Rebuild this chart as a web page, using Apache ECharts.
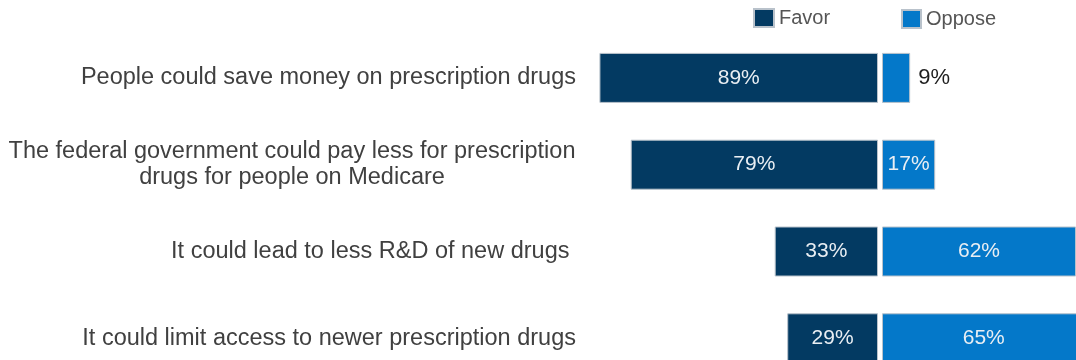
<!DOCTYPE html>
<html>
<head>
<meta charset="utf-8">
<script src="https://cdn.jsdelivr.net/npm/echarts@6/dist/echarts.min.js"></script>
<style>
  html, body { margin: 0; padding: 0; background: #ffffff; }
  #chart { width: 1076px; height: 360px; }
</style>
</head>
<body>
<div id="chart"></div>
<script>
// Survey statements, top to bottom
const statements = [
  'People could save money on prescription drugs',
  'The federal government could pay less for prescription\ndrugs for people on Medicare',
  'It could lead to less R&D of new drugs ',
  'It could limit access to newer prescription drugs'
];
// Share of respondents (%)
const favor = [89, 79, 33, 29];
const oppose = [9, 17, 62, 65];
const seriesNames = ['Favor', 'Oppose'];

const FONT = "'Liberation Sans', Arial, sans-serif";
const FAVOR_COLOR = '#033a62';
const OPPOSE_COLOR = '#0478c9';

const chart = echarts.init(document.getElementById('chart'), null, { renderer: 'canvas' });

function barLabel(v, narrowLimit) {
  // short bars carry their value outside, to the right
  if (v < narrowLimit) {
    return { show: true, position: 'right', distance: 8, color: '#1e1e1e', fontSize: 22, fontFamily: FONT };
  }
  return undefined;
}

const option = {
  animation: false,
  backgroundColor: '#ffffff',
  legend: [
    {
      data: [seriesNames[0]], left: 753, top: 8, icon: 'rect', itemWidth: 20, itemHeight: 18,
      textStyle: { fontFamily: FONT, fontSize: 20, color: '#555555' },
      itemGap: 0, padding: 0, selectedMode: false
    },
    {
      data: [seriesNames[1]], left: 901, top: 9, icon: 'rect', itemWidth: 19, itemHeight: 18,
      textStyle: { fontFamily: FONT, fontSize: 20, color: '#555555' },
      itemGap: 0, padding: 0, selectedMode: false
    }
  ],
  grid: [
    { left: 565, width: 313, top: 34.5, height: 347.2, outerBoundsMode: 'none', containLabel: false },
    { left: 882, width: 313, top: 34.5, height: 347.2, outerBoundsMode: 'none', containLabel: false }
  ],
  xAxis: [
    { gridIndex: 0, type: 'value', min: 0, max: 100, inverse: true, show: false },
    { gridIndex: 1, type: 'value', min: 0, max: 100, show: false }
  ],
  yAxis: [
    {
      gridIndex: 0, type: 'category', data: statements, inverse: true, position: 'left',
      axisLine: { show: false }, axisTick: { show: false },
      axisLabel: {
        margin: -11,
        fontFamily: FONT, fontSize: 23.5, color: '#404040', lineHeight: 26,
        formatter: function (val) {
          if (val.indexOf('\n') < 0) return val;
          return val.split('\n').map(function (l) { return '{m|' + l + '}'; }).join('\n');
        },
        rich: {
          m: { width: 568, align: 'center', fontFamily: FONT, fontSize: 23.5, color: '#404040', lineHeight: 26 }
        }
      }
    },
    {
      gridIndex: 1, type: 'category', data: statements, inverse: true, show: false
    }
  ],
  series: [
    {
      name: seriesNames[0], type: 'bar', xAxisIndex: 0, yAxisIndex: 0, barWidth: 50,
      itemStyle: { color: FAVOR_COLOR, borderColor: '#b9c2cb', borderWidth: 1 },
      label: {
        show: true, position: 'inside', color: '#e9eef3', fontSize: 21, fontFamily: FONT,
        formatter: '{c}%'
      },
      data: favor.map(function (v) { return { value: v, label: barLabel(v, 12) }; })
    },
    {
      name: seriesNames[1], type: 'bar', xAxisIndex: 1, yAxisIndex: 1, barWidth: 50,
      itemStyle: { color: OPPOSE_COLOR, borderColor: '#b9c2cb', borderWidth: 1 },
      label: {
        show: true, position: 'inside', color: '#e9eef3', fontSize: 21, fontFamily: FONT,
        formatter: '{c}%'
      },
      data: oppose.map(function (v) { return { value: v, label: barLabel(v, 12) }; })
    }
  ]
};

chart.setOption(option);
</script>
</body>
</html>
